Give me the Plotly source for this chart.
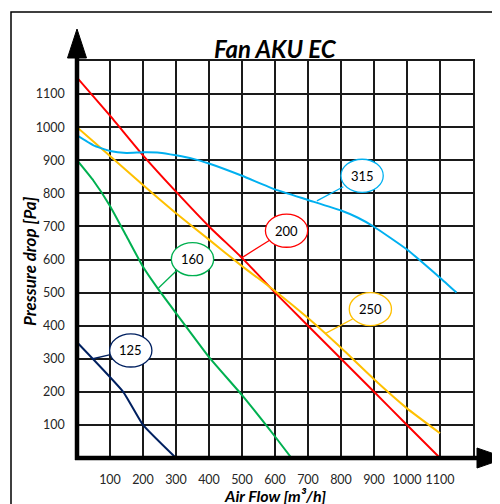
import plotly.graph_objects as go

# ---- data ----
x125 = [0, 140, 200, 300]
y125 = [350, 200, 100, 0]

x160 = [0, 50, 100, 150, 200, 250, 300, 400, 500, 600, 650]
y160 = [900, 838, 762, 670, 578, 505, 438, 305, 190, 65, 0]

x200 = [0, 100, 200, 300, 400, 500, 600, 700, 800, 900, 1000, 1100]
y200 = [1150, 1035, 915, 805, 700, 605, 500, 400, 300, 200, 100, 0]

x250 = [0, 100, 200, 300, 400, 500, 600, 700, 800, 900, 1000, 1100]
y250 = [1000, 913, 825, 740, 660, 580, 505, 423, 333, 238, 150, 75]

x315 = [0, 50, 100, 150, 200, 250, 300, 350, 400, 500, 600, 700, 800, 850, 900, 1000, 1100, 1150]
y315 = [975, 945, 928, 922, 924, 923, 915, 905, 890, 853, 812, 780, 748, 727, 699, 630, 545, 500]

tick_vals = list(range(0, 1300, 100))
tick_text = [""] + [str(v) for v in range(100, 1200, 100)] + [""]

series = [
    ("125", x125, y125, "#002060"),
    ("160", x160, y160, "#00b050"),
    ("200", x200, y200, "#ff0000"),
    ("250", x250, y250, "#ffc000"),
    ("315", x315, y315, "#00b0f0"),
]

# label ellipses: name, center x, center y, connector start (on ellipse), connector end (on curve)
labels = [
    ("125", 163, 325, (98, 312), (48, 300), "#002060"),
    ("160", 350, 601, (302, 567), (247, 514), "#00b050"),
    ("200", 635, 687, (585, 659), (499, 605), "#ff0000"),
    ("250", 889, 450, (835, 420), (752, 376), "#ffc000"),
    ("315", 864, 853, (807, 820), (727, 777), "#00b0f0"),
]

FONT = "Lato"

fig = go.Figure()
for name, xs, ys, col in series:
    fig.add_trace(go.Scatter(x=xs, y=ys, mode="lines", name=name,
                             line=dict(color=col, width=2, shape="spline", smoothing=0.4),
                             showlegend=False, hoverinfo="skip"))

shapes = []
for name, cx, cy, p0, p1, col in labels:
    shapes.append(dict(type="line", xref="x", yref="y", x0=p0[0], y0=p0[1], x1=p1[0], y1=p1[1],
                       line=dict(color=col, width=1.3), layer="above"))
for name, cx, cy, p0, p1, col in labels:
    shapes.append(dict(type="circle", xref="x", yref="y", x0=cx - 64, x1=cx + 64, y0=cy - 50, y1=cy + 50,
                       line=dict(color=col, width=1.3), fillcolor="white", layer="above"))

# page-pixel helpers (plot area spans page px 77..473 horizontally, 61..458 vertically)
def px_x(p):
    return (p - 77) / 396.0

def px_y(p):
    return (458 - p) / 397.0

# thick axes
shapes.append(dict(type="line", xref="paper", yref="paper", x0=0, x1=0, y0=px_y(460), y1=px_y(56),
                   line=dict(color="black", width=4.5), layer="above"))
shapes.append(dict(type="line", xref="paper", yref="paper", x0=px_x(75), x1=px_x(478), y0=0, y1=0,
                   line=dict(color="black", width=4.5), layer="above"))
# arrow heads
shapes.append(dict(type="path", xref="paper", yref="paper",
                   path=f"M {px_x(67.5)} {px_y(58)} L {px_x(86.5)} {px_y(58)} L {px_x(77)} {px_y(29)} Z",
                   fillcolor="black", line=dict(color="black", width=1), layer="above"))
shapes.append(dict(type="path", xref="paper", yref="paper",
                   path=f"M {px_x(477)} {px_y(448)} L {px_x(477)} {px_y(468)} L {px_x(506)} {px_y(458)} Z",
                   fillcolor="black", line=dict(color="black", width=1), layer="above"))
# outer frame
shapes.append(dict(type="rect", xref="paper", yref="paper", x0=px_x(11), x1=px_x(520),
                   y0=px_y(520), y1=px_y(12), line=dict(color="black", width=1.5), layer="above"))

annotations = []
for name, cx, cy, p0, p1, col in labels:
    annotations.append(dict(x=cx, y=cy, xref="x", yref="y", text=name, showarrow=False,
                            font=dict(family=FONT, size=13, color="black")))
annotations.append(dict(x=0.5, y=px_y(48), xref="paper", yref="paper", text="<b><i>Fan AKU EC</i></b>",
                        showarrow=False, font=dict(family=FONT, size=24, color="black"),
                        xanchor="center", yanchor="middle"))
annotations.append(dict(x=0.5, y=px_y(496), xref="paper", yref="paper", text="<b><i>Air Flow [m³/h]</i></b>",
                        showarrow=False, font=dict(family=FONT, size=16, color="black"),
                        xanchor="center", yanchor="middle"))
annotations.append(dict(x=px_x(29), y=px_y(262), xref="paper", yref="paper",
                        text="<b><i>Pressure drop [Pa]</i></b>", textangle=-90,
                        showarrow=False, font=dict(family=FONT, size=17, color="black"),
                        xanchor="center", yanchor="middle"))

axis_common = dict(range=[0, 1200], tickmode="array", tickvals=tick_vals, ticktext=tick_text,
                   showgrid=True, gridcolor="#1a1a1a", gridwidth=1.5,
                   showline=True, linecolor="#1a1a1a", linewidth=1.5, mirror=True,
                   zeroline=False, ticks="", fixedrange=True, automargin=False,
                   tickfont=dict(family=FONT, size=12.5, color="#262626"))

# the page body has an 8px margin, so the figure is sized/offset to compensate
fig.update_layout(
    width=492, height=496,
    margin=dict(l=69, r=27, t=53, b=46, autoexpand=False),
    paper_bgcolor="white", plot_bgcolor="white",
    xaxis=dict(**axis_common, ticklabelstandoff=9),
    yaxis=dict(**axis_common, ticklabelstandoff=8),
    shapes=shapes, annotations=annotations,
    showlegend=False,
)

fig.write_html("out.html")
